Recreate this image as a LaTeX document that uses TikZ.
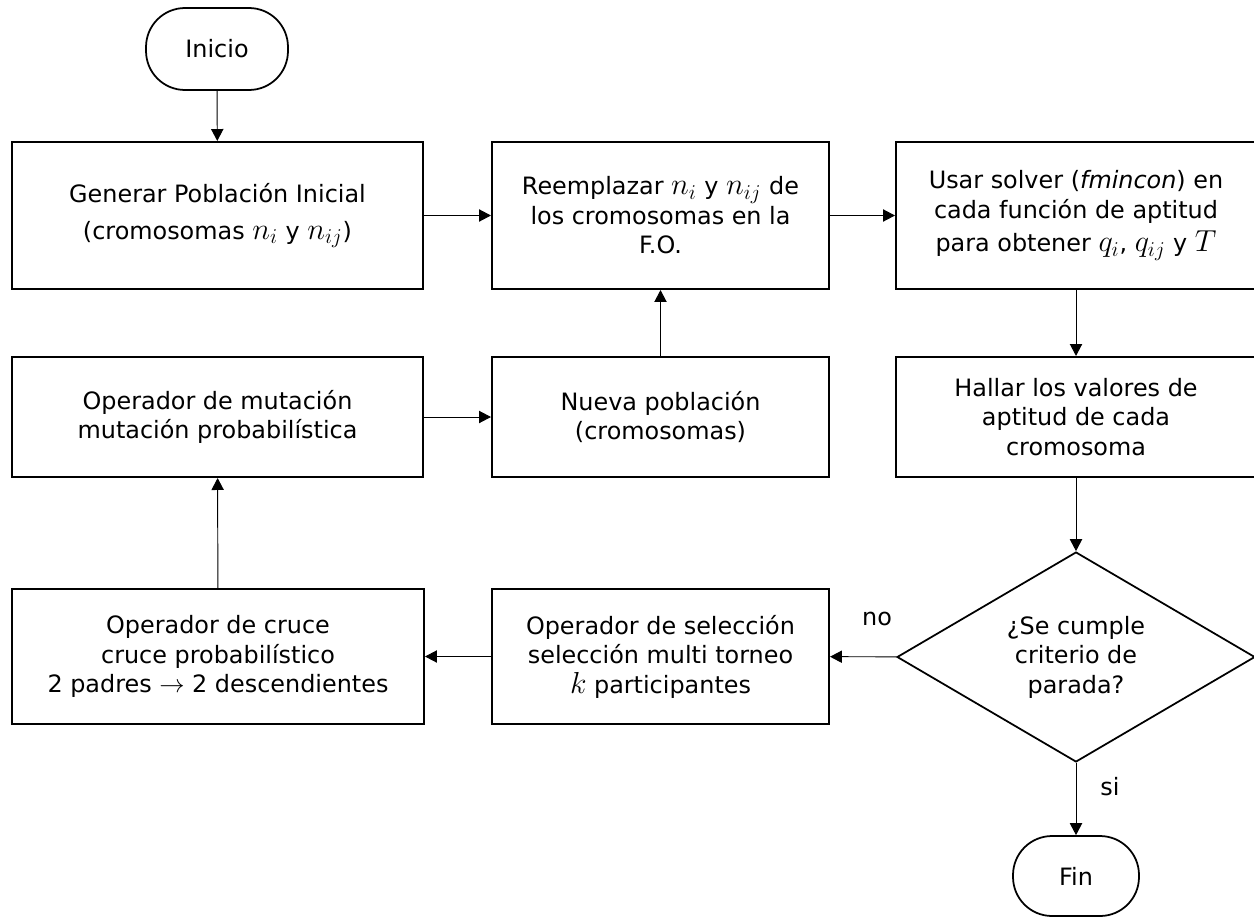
\documentclass[tikz,border=0pt]{standalone}
\usepackage{fontspec}
\setmainfont{DejaVu Sans}
\usetikzlibrary{arrows.meta,shapes.geometric}
\newcommand{\mth}[1]{{\fontsize{16.5}{16.8}\selectfont$#1$}}
\begin{document}
\begin{tikzpicture}[x=0.02cm,y=-0.02cm,
  every node/.style={font=\fontsize{13.6}{16.8}\selectfont, align=center, inner sep=0pt},
  box/.style={draw, line width=1.2pt, rectangle},
  term/.style={draw, line width=1pt, rectangle, rounded corners=0.78cm},
  decision/.style={draw, line width=1pt, diamond, shape aspect=1.7},
  conn/.style={line width=0.55pt, -{Triangle[length=6.8pt,width=7pt]}},
  lbl/.style={}
]
\useasboundingbox (0,0) rectangle (1254,916);
\node[term, minimum width=2.84cm, minimum height=1.64cm] (inicio) at (217,49) {Inicio};
\node[box, minimum width=8.22cm, minimum height=2.94cm] (gen) at (217.5,215.5)
  {Generar Población Inicial\\[4pt](cromosomas \mth{n_i} y \mth{n_{ij}})};
\node[box, minimum width=6.74cm, minimum height=2.94cm] (reem) at (660.5,215.5)
  {Reemplazar \mth{n_i} y \mth{n_{ij}} de\\los cromosomas en la\\F.O.};
\node[box, minimum width=7.2cm, minimum height=2.94cm] (usar) at (1076,215.5)
  {Usar solver (\textit{fmincon}) en\\cada función de aptitud\\[2pt]para obtener \mth{q_i}, \mth{q_{ij}} y \mth{T}};
\node[box, minimum width=8.22cm, minimum height=2.4cm] (mut) at (217.5,417)
  {Operador de mutación\\mutación probabilística};
\node[box, minimum width=6.74cm, minimum height=2.4cm] (nueva) at (660.5,417)
  {Nueva población\\(cromosomas)};
\node[box, minimum width=7.2cm, minimum height=2.4cm] (hallar) at (1076,417)
  {Hallar los valores de\\aptitud de cada\\cromosoma};
\node[box, minimum width=8.24cm, minimum height=2.7cm] (cruce) at (218,656.5)
  {Operador de cruce\\cruce probabilístico\\2 padres $\rightarrow$ 2 descendientes};
\node[box, minimum width=6.74cm, minimum height=2.7cm] (sel) at (660.5,656.5)
  {Operador de selección\\selección multi torneo\\\mth{k} participantes};
\node[decision, minimum width=7.16cm, minimum height=4.2cm] (dec) at (1076,657)
  {¿Se cumple\\criterio de\\parada?};
\node[term, minimum width=2.52cm, minimum height=1.6cm] (fin) at (1076,876) {Fin};

\draw[conn] (inicio) -- (gen);
\draw[conn] (gen) -- (reem);
\draw[conn] (reem) -- (usar);
\draw[conn] (usar) -- (hallar);
\draw[conn] (hallar) -- (dec);
\draw[conn] (dec) -- (sel);
\draw[conn] (sel) -- (cruce);
\draw[conn] (cruce) -- (mut);
\draw[conn] (mut) -- (nueva);
\draw[conn] (nueva) -- (reem);
\draw[conn] (dec) -- (fin);
\node[lbl] (no) at (877,619) {no};
\node[lbl] (si) at (1110,787) {si};
\end{tikzpicture}
\end{document}
